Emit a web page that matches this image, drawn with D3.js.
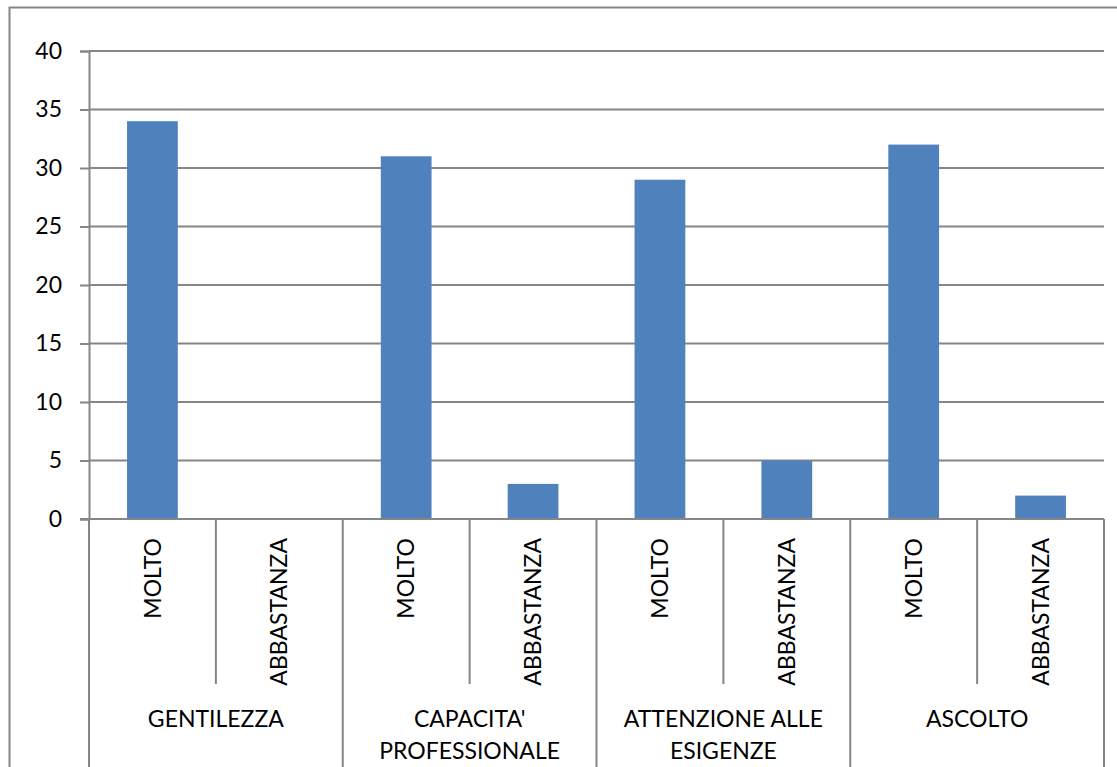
<!DOCTYPE html>
<html>
<head>
<meta charset="utf-8">
<script src="https://cdnjs.cloudflare.com/ajax/libs/d3/7.8.5/d3.min.js"></script>
<style>
  body { margin: 0; background: #fff; }
  svg text { font-family: Lato, "Open Sans", sans-serif; fill: #000; }
</style>
</head>
<body>
<div id="chart"></div>
<script>
// data
const groups = ["GENTILEZZA", "CAPACITA' PROFESSIONALE", "ATTENZIONE ALLE ESIGENZE", "ASCOLTO"];
const groupLines = [["GENTILEZZA"], ["CAPACITA'", "PROFESSIONALE"], ["ATTENZIONE ALLE", "ESIGENZE"], ["ASCOLTO"]];
const answers = ["MOLTO", "ABBASTANZA"];
const molto = [34, 31, 29, 32];
const abbastanza = [0, 3, 5, 2];
const yTicks = [0, 5, 10, 15, 20, 25, 30, 35, 40];

const W = 1117, H = 767;
const plotLeft = 89, plotRight = 1104, plotTop = 51, plotBottom = 519;
const gray = "#868686";
const fontSize = "23px";

const svg = d3.select("#chart").append("svg")
    .attr("width", W)
    .attr("height", H);

// outer frame (runs off the right and bottom edges)
svg.append("rect")
    .attr("x", 9.5).attr("y", 7.5)
    .attr("width", 1200).attr("height", 900)
    .attr("fill", "none")
    .attr("stroke", gray)
    .attr("stroke-width", 2);

const y = d3.scaleLinear()
    .domain([0, 40])
    .range([plotBottom, plotTop]);

const x0 = d3.scaleBand()
    .domain(groups)
    .range([plotLeft, plotRight]);

const x1 = d3.scaleBand()
    .domain(answers)
    .range([0, x0.bandwidth()]);

// y axis
const yAxis = svg.append("g")
    .attr("transform", "translate(" + plotLeft + ",0)")
    .call(d3.axisLeft(y).tickValues(yTicks).tickSize(9).tickPadding(18));
yAxis.select(".domain").attr("stroke", gray).attr("stroke-width", 2);
yAxis.selectAll(".tick line").attr("stroke", gray).attr("stroke-width", 2);
yAxis.selectAll(".tick text")
    .style("font-size", fontSize)
    .style("font-family", "Lato, 'Open Sans', sans-serif")
    .attr("fill", "#000");

// gridlines
svg.append("g")
  .selectAll("line")
  .data(yTicks.filter(d => d > 0))
  .enter().append("line")
    .attr("x1", plotLeft).attr("x2", plotRight)
    .attr("y1", d => y(d)).attr("y2", d => y(d))
    .attr("stroke", gray)
    .attr("stroke-width", 2);

// flattened rows
const rows = [];
groups.forEach((g, i) => {
  rows.push({group: g, answer: "MOLTO", value: molto[i]});
  rows.push({group: g, answer: "ABBASTANZA", value: abbastanza[i]});
});

const barW = x1.bandwidth() * 0.4;

svg.append("g")
  .selectAll("rect")
  .data(rows)
  .enter().append("rect")
    .attr("x", d => x0(d.group) + x1(d.answer) + (x1.bandwidth() - barW) / 2)
    .attr("y", d => y(d.value))
    .attr("width", barW)
    .attr("height", d => y(0) - y(d.value))
    .attr("fill", "#4F81BD");

// x axis line
svg.append("line")
    .attr("x1", plotLeft - 9).attr("x2", plotRight)
    .attr("y1", plotBottom).attr("y2", plotBottom)
    .attr("stroke", gray)
    .attr("stroke-width", 2);

// group separators (full height)
const groupEdges = groups.map(g => x0(g)).concat([plotRight]);
svg.append("g")
  .selectAll("line")
  .data(groupEdges)
  .enter().append("line")
    .attr("x1", d => d).attr("x2", d => d)
    .attr("y1", plotBottom).attr("y2", 800)
    .attr("stroke", gray)
    .attr("stroke-width", 2);

// separators between answers
svg.append("g")
  .selectAll("line")
  .data(groups)
  .enter().append("line")
    .attr("x1", d => x0(d) + x1("ABBASTANZA"))
    .attr("x2", d => x0(d) + x1("ABBASTANZA"))
    .attr("y1", plotBottom).attr("y2", 684)
    .attr("stroke", gray)
    .attr("stroke-width", 2);

// rotated answer labels
svg.append("g")
  .selectAll("text")
  .data(rows)
  .enter().append("text")
    .attr("transform", d => "translate(" + (x0(d.group) + x1(d.answer) + x1.bandwidth() / 2) + "," + 538 + ") rotate(-90)")
    .attr("text-anchor", "end")
    .attr("dy", "0.35em")
    .style("font-size", fontSize)
    .text(d => d.answer);

// group labels
const gl = svg.append("g")
  .selectAll("text")
  .data(groups)
  .enter().append("text")
    .attr("x", d => x0(d) + x0.bandwidth() / 2)
    .attr("y", 719)
    .attr("text-anchor", "middle")
    .style("font-size", fontSize);

gl.each(function(d, i) {
  d3.select(this).selectAll("tspan")
    .data(groupLines[i])
    .enter().append("tspan")
      .attr("x", x0(d) + x0.bandwidth() / 2)
      .attr("dy", (t, j) => j === 0 ? "0.35em" : "1.38em")
      .text(t => t);
});
</script>
</body>
</html>
